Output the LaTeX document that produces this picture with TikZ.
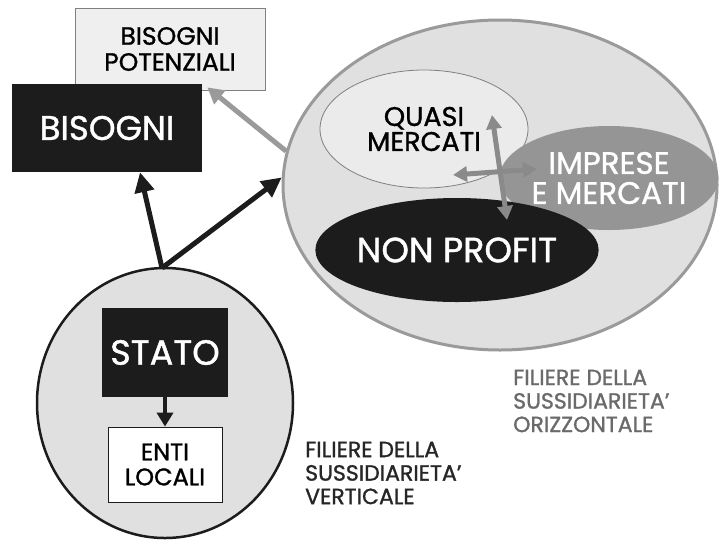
\documentclass[tikz,border=0pt]{standalone}
\usepackage{fontspec}
\setmainfont{Poppins}
\usetikzlibrary{shapes.geometric,arrows.meta}
\definecolor{boxblack}{HTML}{1C1C1C}
\definecolor{bigfill}{HTML}{E0E0E0}
\definecolor{bigline}{HTML}{9A9A9A}
\definecolor{quasifill}{HTML}{EBEBEB}
\definecolor{impfill}{HTML}{959595}
\definecolor{arrgray}{HTML}{8A8A8A}
\definecolor{potfill}{HTML}{EFEFEF}
\definecolor{capgray}{HTML}{6A6A6A}
\newcommand{\apos}{\symbol{39}}
\newcommand{\heavy}{\addfontfeatures{FakeBold=1.2}}

\begin{document}
\begin{tikzpicture}[x=1pt,y=-1pt,
    blackbox/.style={rectangle,fill=boxblack,text=white,inner sep=0pt},
    whitebox/.style={rectangle,draw=#1,line width=0.8pt,inner sep=0pt,align=center},
    blob/.style={ellipse,inner sep=0pt,align=center},
    darrow/.style={line width=5pt,draw=boxblack,-{Triangle[length=20pt,width=19pt]}},
    garrow/.style={line width=5pt,draw=arrgray,{Triangle[length=14pt,width=15pt]}-{Triangle[length=14pt,width=15pt]}},
    caption/.style={anchor=west,align=left,inner sep=0pt,font=\fontsize{22}{23.5}\selectfont\heavy}]
\useasboundingbox[fill=white] (0,0) rectangle (719,539);

% Bisogni
\node[whitebox=gray,fill=potfill,minimum width=190pt,minimum height=82pt,
      font=\fontsize{25}{26}\selectfont\heavy] (pot) at (170,49) {BISOGNI\\POTENZIALI};
\node[blackbox,minimum width=190pt,minimum height=88pt,
      font=\fontsize{34}{34}\selectfont\heavy] (bis) at (107,128) {BISOGNI};

% Sussidiarieta' orizzontale
\node[blob,draw=bigline,line width=3pt,fill=bigfill,minimum width=434pt,minimum height=330pt] (oriz) at (500,185) {};
\node[blob,draw=gray,line width=0.8pt,fill=quasifill,minimum width=208pt,minimum height=118pt,
      font=\fontsize{27}{25}\selectfont\heavy] (quasi) at (424,129) {QUASI\\MERCATI};
\node[blob,fill=impfill,text=white,minimum width=202pt,minimum height=104pt,
      font=\fontsize{31}{30}\selectfont\heavy] (imp) at (609,178) {IMPRESE\\E MERCATI};
\node[blob,fill=boxblack,text=white,minimum width=220pt,minimum height=104pt,
      font=\fontsize{35}{35}\selectfont\heavy] (np) at (457,250) {NON PROFIT};

% Frecce grigie
\coordinate (vtop) at (492,115);
\coordinate (vbot) at (507,220);
\coordinate (hl) at (453,175);
\coordinate (hr) at (537,169);
\draw[garrow] (vtop) -- (vbot);
\draw[garrow] (hl) -- (hr);
\draw[line width=5pt,draw=bigline,-{Triangle[length=16pt,width=17pt]}] (oriz.171) -- ([xshift=-58pt,yshift=3pt]pot.south east);

% Sussidiarieta' verticale
\node[blob,draw=boxblack,line width=2.5pt,fill=bigfill,minimum width=256pt,minimum height=270pt] (vert) at (165,403) {};
\node[blackbox,minimum width=126pt,minimum height=89pt,
      font=\fontsize{35}{35}\selectfont\heavy] (stato) at (165,352.5) {STATO};
\node[whitebox=boxblack,fill=white,minimum width=114pt,minimum height=75pt,
      font=\fontsize{24}{25}\selectfont\heavy] (enti) at (165,464.5) {ENTI\\LOCALI};
\draw[line width=4pt,draw=boxblack,-{Triangle[length=14pt,width=16pt]}] (stato) -- (enti);

% Frecce nere
\coordinate (top) at (162,268);
\draw[darrow] (top) -- ([xshift=33pt]bis.south);
\draw[darrow] (top) -- (oriz.178);

% Didascalie
\node[caption,text=black!85] (capv) at (305,473) {FILIERE DELLA\\SUSSIDIARIETA\apos\\VERTICALE};
\node[caption,text=capgray] (capo) at (513,401) {FILIERE DELLA\\SUSSIDIARIETA\apos\\ORIZZONTALE};
\end{tikzpicture}
\end{document}
